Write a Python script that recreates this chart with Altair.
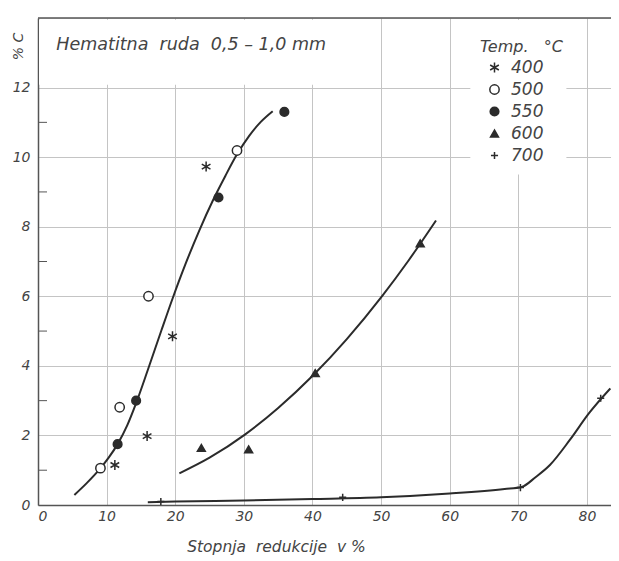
import altair as alt
import pandas as pd

# ---- data ----
temps = ["400", "500", "550", "600", "700"]

x400 = [11.2, 15.9, 19.6, 24.5]
y400 = [1.15, 1.98, 4.85, 9.73]
x500 = [9.1, 11.9, 16.1, 29.0]
y500 = [1.06, 2.81, 6.0, 10.19]
x550 = [11.6, 14.3, 26.3, 35.9]
y550 = [1.75, 3.0, 8.84, 11.3]
x600 = [23.8, 30.7, 40.4, 55.7]
y600 = [1.64, 1.6, 3.79, 7.52]
x700 = [17.9, 44.4, 70.3, 82.0]
y700 = [0.1, 0.22, 0.5, 3.07]

c1x = [5.3, 7.1, 8.9, 10.3, 11.6, 13.0, 14.3, 16.0, 18.0, 19.6, 21.5, 23.5, 25.5, 27.3, 29.0, 30.8, 32.5, 34.2]
c1y = [0.29, 0.63, 1.01, 1.36, 1.75, 2.29, 2.93, 3.88, 5.03, 5.93, 6.93, 7.89, 8.76, 9.46, 10.08, 10.62, 11.02, 11.32]
c2x = [20.6, 25, 30.2, 35, 40.1, 45, 50.2, 54, 58.0]
c2y = [0.91, 1.36, 2.03, 2.79, 3.73, 4.77, 6.02, 7.03, 8.18]
c3x = [16, 20, 30, 40, 50, 60, 68, 70.5, 72.5, 74.6, 77.5, 80.3, 83.4]
c3y = [0.08, 0.1, 0.13, 0.17, 0.22, 0.33, 0.46, 0.52, 0.8, 1.15, 1.87, 2.64, 3.35]

x_ticks = [0, 10, 20, 30, 40, 50, 60, 70, 80]
y_ticks = [0, 2, 4, 6, 8, 10, 12]
y_minor = [1, 3, 5, 7, 9, 11]

title_text = "Hematitna\u00a0\u00a0ruda\u00a0\u00a00,5\u00a0–\u00a01,0\u00a0mm"

# ---- tables ----
pts = []
for t, xs_, ys_ in zip(temps, [x400, x500, x550, x600, x700], [y400, y500, y550, y600, y700]):
    for a, b in zip(xs_, ys_):
        pts.append({"x": a, "y": b, "temp": t})
pts = pd.DataFrame(pts)

curves = []
for name, xs_, ys_ in [("c1", c1x, c1y), ("c2", c2x, c2y), ("c3", c3x, c3y)]:
    for a, b in zip(xs_, ys_):
        curves.append({"x": a, "y": b, "curve": name})
curves = pd.DataFrame(curves)

W, H = 573, 487
XMAX, YMAX = 83.5, 14
FONT = "DejaVu Sans"
TXT = "#444444"
INK = "#2b2b2b"

xs = alt.Scale(domain=[0, XMAX], nice=False, zero=False)
ys = alt.Scale(domain=[0, YMAX], nice=False)

# white boxes behind the inscription and the legend
boxes = pd.DataFrame({"x": [0.15, 63.0], "x2": [46.0, 77.0], "y": [12.08, 9.5], "y2": [13.95, 13.95]})
box_layer = alt.Chart(boxes).mark_rect(color="white").encode(
    x=alt.X("x:Q", scale=xs), x2="x2:Q", y=alt.Y("y:Q", scale=ys), y2="y2:Q"
)

base_axes = alt.Chart(pd.DataFrame({"x": [0], "y": [0]})).mark_point(opacity=0).encode(
    x=alt.X("x:Q", scale=xs, axis=alt.Axis(
        values=x_ticks, grid=True, gridColor="#c4c4c4", gridWidth=1,
        ticks=False, domainColor="#555555", domainWidth=1.5,
        labelFont=FONT, labelFontStyle="italic", labelFontSize=14, labelColor=TXT,
        labelPadding=4, title="Stopnja\u00a0\u00a0redukcije\u00a0\u00a0v\u00a0%",
        titleFont=FONT, titleFontStyle="italic", titleFontSize=15.5, titleFontWeight="normal",
        titleColor=TXT, titleX=238, titleY=41, titleBaseline="middle")),
    y=alt.Y("y:Q", scale=ys, axis=alt.Axis(
        values=y_ticks, grid=True, gridColor="#c4c4c4", gridWidth=1,
        ticks=False, domainColor="#555555", domainWidth=1.5,
        labelFont=FONT, labelFontStyle="italic", labelFontSize=14, labelColor=TXT,
        labelPadding=8, title="%\u00a0C",
        titleFont=FONT, titleFontStyle="italic", titleFontSize=14, titleFontWeight="normal",
        titleColor=TXT, titleAngle=270, titleX=-20, titleY=28, titleBaseline="middle",
        titleAlign="center")),
)

minor = alt.Chart(pd.DataFrame({"y": y_minor})).mark_rule(color="#555555", strokeWidth=1).encode(
    y=alt.Y("y:Q", scale=ys), x=alt.value(0), x2=alt.value(9)
)

top_rule = alt.Chart(pd.DataFrame({"y": [YMAX]})).mark_rule(color="#555555", strokeWidth=1.5).encode(
    y=alt.Y("y:Q", scale=ys), x=alt.value(0), x2=alt.value(W)
)

lines = alt.Chart(curves).mark_line(interpolate="monotone", color=INK, strokeWidth=2).encode(
    x=alt.X("x:Q", scale=xs), y=alt.Y("y:Q", scale=ys), detail="curve:N"
)

asterisk = "M0,-1L0,1M-0.87,-0.5L0.87,0.5M-0.87,0.5L0.87,-0.5"
plus = "M-1,0L1,0M0,-1L0,1"
leg = dict(
    title="Temp.\u00a0\u00a0\u00a0°C", orient="none", legendX=434, legendY=13, padding=8,
    titleFont=FONT, titleFontStyle="italic", titleFontSize=16, titleFontWeight="normal",
    titleColor=TXT, titlePadding=4,
    labelFont=FONT, labelFontStyle="italic", labelFontSize=17, labelColor=TXT,
    rowPadding=4, symbolOffset=6, labelOffset=8, symbolStrokeWidth=1.5,
)
points = alt.Chart(pts).mark_point(strokeWidth=1.5, opacity=1).encode(
    x=alt.X("x:Q", scale=xs), y=alt.Y("y:Q", scale=ys),
    shape=alt.Shape("temp:N", scale=alt.Scale(domain=temps, range=[asterisk, "circle", "circle", "triangle-up", plus]),
                    legend=alt.Legend(**leg)),
    fill=alt.Fill("temp:N", scale=alt.Scale(domain=temps, range=[INK, "white", INK, INK, INK]),
                  legend=alt.Legend(**leg)),
    stroke=alt.Stroke("temp:N", scale=alt.Scale(domain=temps, range=[INK, INK, INK, INK, INK]),
                      legend=alt.Legend(**leg)),
    size=alt.Size("temp:N", scale=alt.Scale(domain=temps, range=[100, 50, 50, 100, 100]),
                  legend=alt.Legend(**leg)),
)

label = alt.Chart(pd.DataFrame({"x": [2.67], "y": [13.22], "t": [title_text]})).mark_text(
    font=FONT, fontStyle="italic", fontSize=17.5, color=TXT, align="left", baseline="middle"
).encode(x=alt.X("x:Q", scale=xs), y=alt.Y("y:Q", scale=ys), text="t:N")

chart = alt.layer(base_axes, box_layer, minor, top_rule, lines, points, label).properties(
    width=W, height=H,
    autosize=alt.AutoSizeParams(type="none"),
    padding={"left": 30, "top": 10, "right": 0, "bottom": 54},
).configure_view(stroke=None).configure(background="white")

chart.save("out.html", embed_options={"renderer": "svg", "actions": False})
